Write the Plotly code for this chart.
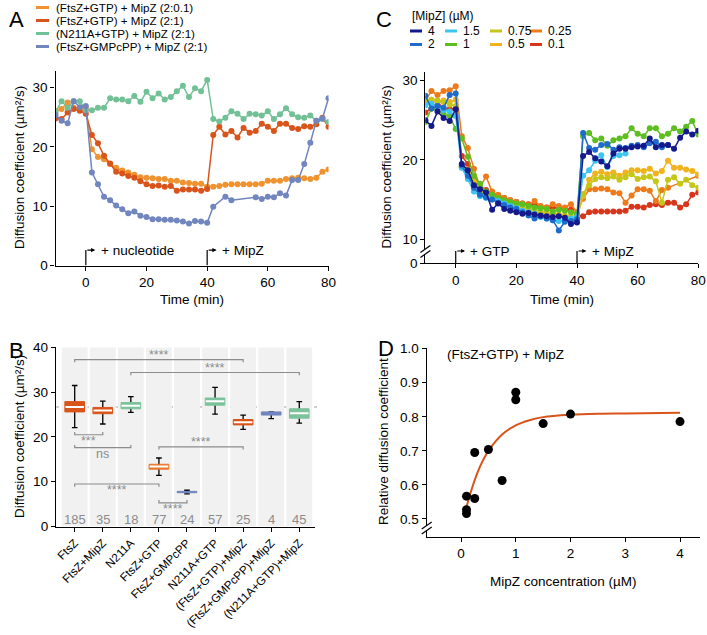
import plotly.graph_objects as go

W, H = 707, 635
FONT = "Liberation Sans, Arial, Helvetica, sans-serif"

# ---------------- Panel A data ----------------
A_TIME_MIN = list(range(-10, 81, 2))
A_NAMES = ["(FtsZ+GTP) + MipZ (2:0.1)", "(FtsZ+GTP) + MipZ (2:1)",
           "(N211A+GTP) + MipZ (2:1)", "(FtsZ+GMPcPP) + MipZ (2:1)"]
A_FTSZ_GTP_MIPZ_2_01 = [26.1, 26.4, 27.5, 26.6, 26.6, 26.6, 19.6, 18.3, 17.9, 17.1, 16.5, 16.0, 15.7, 15.3,
                        14.9, 14.8, 14.7, 14.6, 14.6, 14.3, 14.3, 14.0, 13.9, 13.8, 13.8, 13.3,
                        13.3, 13.4, 13.6, 13.7, 13.7, 13.7, 13.7, 13.7, 13.8, 14.3, 14.3, 14.3, 14.6,
                        14.7, 14.8, 14.7, 14.6, 14.8, 15.8, 16.2]
A_FTSZ_GTP_MIPZ_2_1 = [24.8, 24.7, 25.8, 26.4, 26.1, 25.6, 22.0, 20.6, 18.5, 17.2, 15.8, 15.5, 15.1, 14.8,
                       14.2, 13.7, 13.4, 13.5, 13.3, 13.4, 12.6, 12.8, 12.8, 12.8, 12.6, 12.9,
                       22.0, 23.4, 22.1, 22.7, 21.6, 23.2, 22.4, 22.7, 23.9, 23.4, 22.7, 23.9, 23.9,
                       23.2, 23.0, 23.5, 23.4, 23.8, 24.9, 23.4]
A_N211A_GTP_MIPZ_2_1 = [25.9, 27.7, 26.6, 27.7, 27.7, 26.2, 26.2, 26.6, 26.6, 28.2, 28.0, 28.0, 27.7, 28.6,
                        27.6, 29.3, 28.2, 29.0, 28.0, 28.4, 29.4, 30.3, 28.4, 29.9, 29.4, 31.3,
                        24.7, 24.3, 24.9, 26.0, 25.6, 24.7, 25.6, 25.5, 25.3, 26.0, 24.7, 25.5, 26.5,
                        25.5, 25.0, 24.9, 25.3, 24.4, 24.7, 24.2]
A_FTSZ_GMPCPP_MIPZ_2_1 = [25.4, 24.4, 24.0, 27.7, 26.7, 26.9, 15.7, 13.7, 11.6, 11.0, 10.1, 9.5, 8.8, 9.1,
                          8.4, 8.2, 7.8, 7.8, 7.7, 7.7, 7.6, 7.4, 7.1, 7.5, 7.4, 7.2,
                          9.9, None, 11.6, 11.0, None, None, None, 11.5, 11.2, 11.6, 11.5, 12.2, 11.8,
                          14.4, 14.4, 17.1, 20.7, 24.4, 24.8, 28.2]
A_Y_TICKS = [0, 10, 20, 30]
A_X_TICKS = [0, 20, 40, 60, 80]

# ---------------- Panel C data ----------------
C_TIME_MIN = list(range(-10, 81, 2))
C_MIPZ_LABELS = ["4", "2", "1.5", "1", "0.75", "0.5", "0.25", "0.1"]
C_MIPZ_4 = [25.0, 24.3, 26.1, 25.3, 24.9, 26.4,
            19.5, 18.7, 16.8, 16.3, 15.9, 13.7, 14.5, 13.8, 13.6, 13.4, 13.2, 13.3, 13.1, 13.0,
            12.9, 12.8, 12.9, 12.7, 11.9, 12.1,
            20.5, 21.0, 20.2, 19.8, 19.2, 20.8, 21.4, 21.4, 21.6, 21.7, 21.8, 22.7, 21.6, 21.9,
            21.9, 21.4, 22.8, 23.6, 23.2, 23.7]
C_MIPZ_2 = [28.1, 26.5, 26.8, 26.6, 28.2, 28.4,
            19.3, 18.0, 16.5, 15.6, 15.3, 15.0, 14.6, 14.3, 14.0, 13.8, 13.4, 13.0, 12.6, 12.9,
            12.6, 12.4, 11.1, 12.2, 12.3, 12.5,
            23.4, 21.5, 21.3, 21.9, 22.0, 21.3, 21.6, 21.5, 21.8, 21.9, 21.6, 22.1, 22.3, 21.6,
            21.9, None, None, None, None, None]
C_MIPZ_1_5 = [26.9, 27.1, 26.7, 26.3, 26.1, 25.5,
              19.0, 17.6, 16.0, 15.4, 15.2, 15.0, 14.8, 14.5, 14.2, 13.9, 13.6, 13.4, 13.2, 12.8,
              12.6, 12.4, 12.3, 12.4, 12.6, 12.8,
              18.0, 18.7, 19.9, 20.6, 19.1, 20.5, 20.6, 20.8, None, None, None, None, None, None,
              None, None, None, None, None, None]
C_MIPZ_1 = [24.8, 26.5, 26.3, 25.8, 25.5, 23.9,
            22.7, 20.4, 18.0, 17.0, 16.0, 15.6, 15.2, 14.9, 14.7, 14.5, 14.4, 14.2, 14.0, 13.9,
            13.8, 13.5, 13.7, 13.6, 13.4, 13.2,
            23.0, 23.4, 22.5, 22.7, 21.8, 22.5, 22.7, 23.0, 24.0, 23.3, 23.0, 24.0, 24.0, 23.0,
            23.3, 24.0, 23.6, 24.2, 24.9, 23.2]
C_MIPZ_0_75 = [27.5, 27.6, 27.5, 27.3, 27.0, 26.8,
               19.0, 18.6, 17.0, 16.0, 15.6, 15.2, 15.0, 14.7, 14.4, 14.2, 13.9, 13.6, 13.5, 13.3,
               13.1, 13.0, 12.9, 12.8, 12.7, 12.6,
               15.7, 16.8, 17.6, 17.8, 17.7, 17.9, 17.5, 17.8, 18.2, 17.6, 17.8, 17.9, 17.3, 14.6,
               17.5, 17.8, 17.0, 17.5, 16.8, 16.5]
C_MIPZ_0_5 = [27.3, 27.6, 27.4, 27.5, 27.3, 27.6,
              19.2, 18.8, 17.3, 16.4, 15.8, 15.5, 15.1, 14.8, 14.6, 14.3, 14.0, 13.8, 13.7, 13.5,
              13.3, 13.2, 13.1, 13.0, 12.9, 12.8,
              15.4, 17.5, 18.3, 18.5, 18.2, 18.4, 18.0, 18.4, 18.7, 18.7, 18.6, 18.9, 18.3, 18.6,
              19.9, 19.0, 19.0, 18.8, 18.6, 18.2]
C_MIPZ_0_25 = [27.5, 28.7, 28.2, 28.7, 28.8, 29.3,
               23.0, 21.5, 18.9, 16.6, 17.9, 16.0, 15.6, 15.2, 14.9, 14.7, 14.5, 14.3, 14.8, 14.2,
               14.0, 14.4, 14.2, 14.0, 14.4, 13.4,
               15.1, 16.3, 16.3, 16.4, 16.3, 15.9, 15.8, 14.6, 15.5, 16.3, 16.3, 16.1, 14.8, 16.2,
               16.5, None, None, None, None, 18.0]
C_MIPZ_0_1 = [26.0, 26.5, 27.3, 26.5, 26.4, 26.5,
              20.5, 19.5, 17.5, 16.5, 16.2, 15.8, 15.4, 15.2, 14.9, 14.7, 14.5, 14.4, 14.3, 14.1,
              14.0, 14.0, 13.9, 13.8, 13.7, 13.0,
              12.9, 13.4, 13.5, 13.5, 13.5, 13.5, 13.5, 13.6, 14.1, 14.1, 14.0, 14.3, 14.4, 14.3,
              14.6, 14.6, 14.0, 14.4, 15.6, 15.9]
C_Y_TICKS = [10, 20, 30]
C_Y_BREAK_LABEL = "0"
C_X_TICKS = [0, 20, 40, 60, 80]

# ---------------- Panel B data ----------------
B_CATEGORIES = ["FtsZ", "FtsZ+MipZ", "N211A", "FtsZ+GTP", "FtsZ+GMPcPP", "N211A+GTP",
                "(FtsZ+GTP)+MipZ", "(FtsZ+GMPcPP)+MipZ", "(N211A+GTP)+MipZ"]
B_N = [185, 35, 18, 77, 24, 57, 25, 4, 45]
B_LOWER = [22.1, 22.9, 25.5, 11.4, 7.3, 25.1, 21.7, 24.1, 23.1]
B_Q1 = [25.6, 25.2, 26.3, 12.8, 7.55, 27.1, 22.7, 24.9, 24.2]
B_MEDIAN = [26.7, 25.9, 27.0, 13.4, 7.7, 28.0, 23.3, 25.3, 25.3]
B_Q3 = [27.9, 26.6, 27.7, 13.9, 7.85, 28.7, 23.9, 25.6, 26.3]
B_UPPER = [31.5, 28.0, 29.0, 15.3, 8.1, 31.1, 24.9, 25.6, 27.9]
B_Y_TICKS = [0, 10, 20, 30, 40]
# significance brackets: (from category, to category, y, label)
B_SIG_FROM = [0, 2, 0, 0, 3, 0, 3]
B_SIG_TO = [6, 8, 1, 2, 6, 3, 4]
B_SIG_Y = [37.3, 34.4, 20.5, 17.6, 17.8, 9.5, 5.3]
B_SIG_LABEL = ["****", "****", "***", "ns", "****", "****", "****"]

# ---------------- Panel D data ----------------
D_MIPZ_UM = [0.1, 0.1, 0.1, 0.25, 0.25, 0.5, 0.75, 1.0, 1.0, 1.5, 2.0, 4.0]
D_REL_DIFF = [0.567, 0.527, 0.516, 0.695, 0.560, 0.704, 0.613, 0.872, 0.850, 0.780, 0.808, 0.786]
D_FIT_X = [0.1, 0.2, 0.3, 0.4, 0.5, 0.75, 1.0, 1.25, 1.5, 2.0, 2.5, 3.0, 4.0]
D_FIT_Y = [0.535, 0.590, 0.636, 0.672, 0.700, 0.748, 0.775, 0.790, 0.799, 0.806, 0.809, 0.810, 0.812]
D_Y_TICKS = [0.5, 0.6, 0.7, 0.8, 0.9, 1.0]
D_X_TICKS = [0, 1, 2, 3, 4]

# ---------------- styles ----------------
A_COLORS = ["#EE9330", "#D9541A", "#72C095", "#7185BE"]
C_COLORS = ["#14198C", "#1E6BCB", "#3CC4F2", "#5DBE1F", "#C5C718", "#F0B31C", "#EE7A1A", "#D8361A"]
ORANGE_RED, ORANGE, GREEN, BLUE = "#D9541A", "#E8782C", "#7CC39B", "#7185BE"
B_COLORS = [ORANGE_RED, ORANGE_RED, GREEN, ORANGE, BLUE, GREEN, ORANGE_RED, BLUE, GREEN]
GREY = "#8C8C8C"


def px(x):
    return x / W


def py(y):
    return 1 - y / H


A_XD, A_YD = [px(55.5), px(328.5)], [py(265.5), py(71)]
C_XD, C_YD = [px(425.4), px(698.3)], [py(263.3), py(71.7)]
B_XD, B_YD = [px(56), px(315)], [py(526.5), py(347)]
D_XD, D_YD = [px(426.7), px(700)], [py(537), py(348)]
C_Y_FLOOR = 6.95
B_TOP = 40.1
D_RANGE = [0.447, 1.002]
D_XRANGE = [-0.627, 4.365]


def axis(**kw):
    base = dict(showline=True, linecolor="black", linewidth=1.3, ticks="outside", ticklen=4,
                tickwidth=1.3, tickcolor="black", showgrid=False, zeroline=False,
                tickfont=dict(family=FONT, size=13.5, color="black"), automargin=False,
                fixedrange=True, ticklabeloverflow="allow")
    base.update(kw)
    return base


fig = go.Figure()

# ---- Panel A traces ----
for name, vals, col in zip(A_NAMES, [A_FTSZ_GTP_MIPZ_2_01, A_FTSZ_GTP_MIPZ_2_1,
                                     A_N211A_GTP_MIPZ_2_1, A_FTSZ_GMPCPP_MIPZ_2_1], A_COLORS):
    fig.add_trace(go.Scatter(x=A_TIME_MIN, y=vals, name=name, mode="lines+markers",
                             line=dict(color=col, width=1.5), marker=dict(size=6, color=col),
                             connectgaps=True, showlegend=False, xaxis="x", yaxis="y"))

# ---- Panel C traces ----
C_SERIES = [C_MIPZ_4, C_MIPZ_2, C_MIPZ_1_5, C_MIPZ_1, C_MIPZ_0_75, C_MIPZ_0_5, C_MIPZ_0_25, C_MIPZ_0_1]
for lab, vals, col in reversed(list(zip(C_MIPZ_LABELS, C_SERIES, C_COLORS))):
    fig.add_trace(go.Scatter(x=C_TIME_MIN, y=vals, name=lab + " µM", mode="lines+markers",
                             line=dict(color=col, width=1.5), marker=dict(size=6, color=col),
                             connectgaps=True, showlegend=False, xaxis="x2", yaxis="y2"))

# ---- Panel B traces ----
shapes = []
annotations = []
for i in range(len(B_CATEGORIES)):
    shapes.append(dict(type="rect", xref="x3", yref="y3", x0=i - 0.46, x1=i + 0.46, y0=0, y1=40,
                       fillcolor="#F1F1F1", line=dict(width=0), layer="below"))
shapes.append(dict(type="line", xref="x3 domain", yref="y3", x0=0, x1=1.01, y0=B_MEDIAN[0],
                   y1=B_MEDIAN[0], line=dict(color="#A0A0A0", width=1, dash="dot"), layer="below"))

wx, wy = [], []
cap = 0.1
for i, (lo, hi) in enumerate(zip(B_LOWER, B_UPPER)):
    wx += [i, i, None, i - cap, i + cap, None, i - cap, i + cap, None]
    wy += [lo, hi, None, lo, lo, None, hi, hi, None]
fig.add_trace(go.Scatter(x=wx, y=wy, mode="lines", line=dict(color="black", width=1.3),
                         showlegend=False, hoverinfo="skip", xaxis="x3", yaxis="y3"))
hw = 0.35
B_PX_PER_UNIT = (526.5 - 347) / B_TOP
for i, (q1, med, q3, col) in enumerate(zip(B_Q1, B_MEDIAN, B_Q3, B_COLORS)):
    fig.add_trace(go.Scatter(x=[i - hw, i + hw, i + hw, i - hw, i - hw], y=[q1, q1, q3, q3, q1],
                             mode="lines", fill="toself", fillcolor=col, line=dict(color=col, width=1),
                             showlegend=False, name=B_CATEGORIES[i], xaxis="x3", yaxis="y3"))
    if (q3 - q1) * B_PX_PER_UNIT > 4.5:
        fig.add_trace(go.Scatter(x=[i - hw + 0.02, i + hw - 0.02], y=[med, med], mode="lines",
                                 line=dict(color="white", width=2), showlegend=False,
                                 hoverinfo="skip", xaxis="x3", yaxis="y3"))

for a, b, y, lab in zip(B_SIG_FROM, B_SIG_TO, B_SIG_Y, B_SIG_LABEL):
    up = lab in ("***", "ns") or (b - a == 1 and a == 3)
    t = 0.6 if up else -0.6
    shapes.append(dict(type="path", xref="x3", yref="y3",
                       path=f"M {a},{y + t} L {a},{y} L {b},{y} L {b},{y + t}",
                       line=dict(color=GREY, width=1.2)))
    below = up or (a == 0 and b == 3)
    ly = y - 1.3 if below else y + 1.05
    annotations.append(dict(x=(a + b) / 2, y=ly, xref="x3", yref="y3", text=lab, showarrow=False,
                            font=dict(family=FONT, size=12.5, color=GREY),
                            xanchor="center", yanchor="middle"))
for i, n in enumerate(B_N):
    annotations.append(dict(x=i, y=1.6, xref="x3", yref="y3", text=str(n), showarrow=False,
                            font=dict(family=FONT, size=13, color=GREY), xanchor="center",
                            yanchor="middle"))

# ---- Panel D traces ----
fig.add_trace(go.Scatter(x=D_FIT_X, y=D_FIT_Y, mode="lines", line=dict(color=ORANGE_RED, width=2,
                         shape="spline"), showlegend=False, name="fit", xaxis="x4", yaxis="y4"))
fig.add_trace(go.Scatter(x=D_MIPZ_UM, y=D_REL_DIFF, mode="markers",
                         marker=dict(size=9, color="black"), showlegend=False,
                         name="(FtsZ+GTP) + MipZ", xaxis="x4", yaxis="y4"))


def text(x, y, s, size=13.5, color="black", xanchor="center", yanchor="middle", angle=0):
    return dict(x=px(x), y=py(y), xref="paper", yref="paper", text=s, showarrow=False,
                font=dict(family=FONT, size=size, color=color), xanchor=xanchor,
                yanchor=yanchor, textangle=angle)


# panel letters
annotations += [text(16, 20, "A", size=22), text(384, 20, "C", size=22),
                text(16, 350, "B", size=22), text(386, 348, "D", size=22)]
# axis titles
YT = "Diffusion coefficient (µm²/s)"
annotations += [text(19, 168, YT, angle=-90), text(192, 299, "Time (min)"),
                text(386, 167.5, YT, angle=-90), text(562, 299, "Time (min)"),
                text(19, 437, YT, angle=-90),
                text(383, 442, "Relative diffusion coefficient", angle=-90),
                text(563, 581, "MipZ concentration (µM)"),
                text(445, 354, "(FtsZ+GTP) + MipZ", xanchor="left")]

# event arrows
for xr, yr, y0, yarr, labels in [("x", "y", 0, 2.6, ["+ nucleotide", "+ MipZ"]),
                                 ("x2", "y2", C_Y_FLOOR, 8.5, ["+ GTP", "+ MipZ"])]:
    for t0, lab in zip([0, 40], labels):
        shapes.append(dict(type="line", xref=xr, yref=yr, x0=t0, x1=t0, y0=y0, y1=yarr,
                           line=dict(color="black", width=1.2)))
        annotations.append(dict(x=t0 + 3.1, y=yarr, ax=t0, ay=yarr, xref=xr, yref=yr, axref=xr,
                                ayref=yr, text="", showarrow=True, arrowhead=2, arrowsize=0.7,
                                arrowwidth=1.2, arrowcolor="black", standoff=0, startstandoff=0))
        annotations.append(dict(x=t0 + 4.2, y=yarr, xref=xr, yref=yr, text=lab, showarrow=False,
                                font=dict(family=FONT, size=13.5, color="black"),
                                xanchor="left", yanchor="middle"))

# legend A (drawn manually)
for k, (name, col) in enumerate(zip(A_NAMES, A_COLORS)):
    yy = 7.5 + 13 * k
    shapes.append(dict(type="line", xref="paper", yref="paper", x0=px(36), x1=px(49),
                       y0=py(yy), y1=py(yy), line=dict(color=col, width=3)))
    annotations.append(text(54, yy, name, size=11.6, xanchor="left"))

# legend C (drawn manually)
annotations.append(text(410, 16, "[MipZ] (µM)", size=12, xanchor="left"))
col_x = [410, 445, 490, 530]
order = [0, 2, 4, 6, 1, 3, 5, 7]
for slot, idx in enumerate(order):
    cx = col_x[slot % 4]
    yy = 31 if slot < 4 else 44.5
    shapes.append(dict(type="line", xref="paper", yref="paper", x0=px(cx), x1=px(cx + 12),
                       y0=py(yy), y1=py(yy), line=dict(color=C_COLORS[idx], width=3)))
    annotations.append(text(cx + 16, yy, C_MIPZ_LABELS[idx], size=12, xanchor="left"))

# axis breaks (C and D)
for ax_x, yc in [(425.4, 251.5), (426.7, 528)]:
    shapes.append(dict(type="rect", xref="paper", yref="paper", x0=px(ax_x - 2.5), x1=px(ax_x + 2.5),
                       y0=py(yc + 2.6), y1=py(yc - 2.6), fillcolor="white", line=dict(width=0),
                       layer="above"))
    for off in (-2.5, 2.5):
        shapes.append(dict(type="line", xref="paper", yref="paper", x0=px(ax_x - 5),
                           y0=py(yc + off + 3.5), x1=px(ax_x + 5), y1=py(yc + off - 3.5),
                           line=dict(color="black", width=1.2), layer="above"))

fig.update_layout(
    width=W, height=H, autosize=False, margin=dict(l=0, r=0, t=0, b=0),
    paper_bgcolor="white", plot_bgcolor="white", showlegend=False,
    font=dict(family=FONT, size=13.5, color="black"),
    xaxis=axis(domain=A_XD, range=[-10, 80], tickvals=A_X_TICKS, anchor="y"),
    yaxis=axis(domain=A_YD, range=[0, 32.8], tickvals=A_Y_TICKS, anchor="x"),
    xaxis2=axis(domain=C_XD, range=[-10, 80], tickvals=C_X_TICKS, anchor="y2"),
    yaxis2=axis(domain=C_YD, range=[C_Y_FLOOR, 31.14], tickvals=[C_Y_FLOOR] + C_Y_TICKS,
                ticktext=[C_Y_BREAK_LABEL] + [str(v) for v in C_Y_TICKS], anchor="x2"),
    xaxis3=axis(domain=B_XD, range=[-0.666, 8.56], tickvals=list(range(len(B_CATEGORIES))),
                ticktext=B_CATEGORIES, tickangle=-45, anchor="y3",
                tickfont=dict(family=FONT, size=11.7, color="black")),
    yaxis3=axis(domain=B_YD, range=[0, B_TOP], tickvals=B_Y_TICKS, anchor="x3"),
    xaxis4=axis(domain=D_XD, range=D_XRANGE, tickvals=D_X_TICKS, anchor="y4"),
    yaxis4=axis(domain=D_YD, range=D_RANGE, tickvals=D_Y_TICKS,
                ticktext=[f"{v:.1f}" for v in D_Y_TICKS], anchor="x4"),
    shapes=shapes, annotations=annotations,
)

fig.write_html("out.html", config={"displayModeBar": False},
               post_script="document.body.style.margin='0';document.body.style.padding='0';"
                           "document.body.style.overflow='hidden';")
